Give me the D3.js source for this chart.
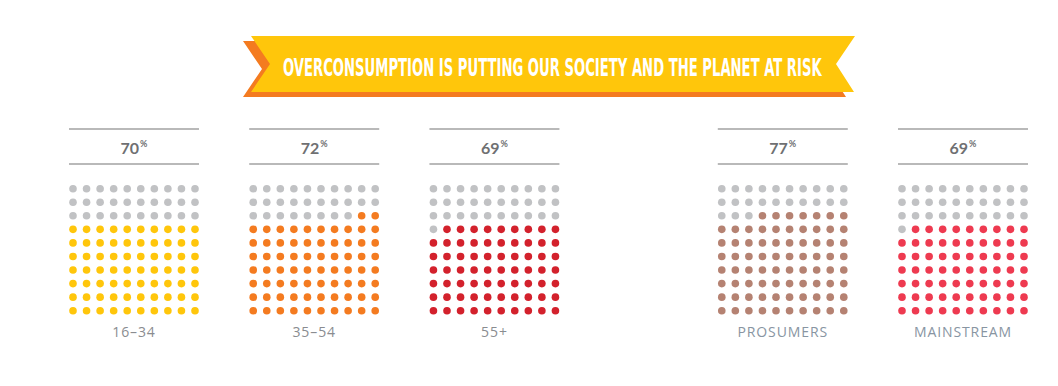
<!DOCTYPE html>
<html>
<head>
<meta charset="utf-8">
<script src="https://cdn.jsdelivr.net/npm/d3@7"></script>
<style>
	html, body { margin: 0; padding: 0; background: #fff; }
	svg { display: block; }
</style>
</head>
<body>
<svg id="chart"></svg>
<script>
// Chart data
const title = 'OVERCONSUMPTION IS PUTTING OUR SOCIETY AND THE PLANET AT RISK';
const categories = [ '16–34', '35–54', '55+', 'PROSUMERS', 'MAINSTREAM' ];
const groups = [ 'age', 'age', 'age', 'segment', 'segment' ];
const values = [ 70, 72, 69, 77, 69 ];
const colors = [ '#ffc60b', '#f47b20', '#d3212c', '#b58272', '#ee3a50' ];
const labelColors = [ '#8a8c90', '#8a8c90', '#8a8c90', '#8895a2', '#8895a2' ];

const width = 1058;
const height = 386;
const cols = 10;
const rows = 10;
const panelW = 130;
const emptyColor = '#c1c2c4';
const ruleColor = '#a2a2a2';

const svg = d3.select( '#chart' )
	.attr( 'width', width )
	.attr( 'height', height );

/**
 * Banner
 */
const bannerPts = [ [ 251, 36 ], [ 855, 36 ], [ 836, 64 ], [ 854, 92 ], [ 251, 92 ], [ 270, 64 ] ];
const line = d3.line();

svg.append( 'path' )
	.attr( 'd', line( bannerPts ) + 'Z' )
	.attr( 'transform', 'translate(-8,5)' )
	.attr( 'fill', '#f47b20' );

svg.append( 'path' )
	.attr( 'd', line( bannerPts ) + 'Z' )
	.attr( 'fill', '#ffc60b' );

// no condensed face is installed, so squeeze the title horizontally
const titleG = svg.append( 'g' );
const titleText = titleG.append( 'text' )
	.attr( 'x', 0 )
	.attr( 'y', 0 )
	.style( 'font-family', '"Liberation Sans Narrow", "DejaVu Sans Condensed", "DejaVu Sans", sans-serif' )
	.style( 'font-weight', 700 )
	.style( 'font-size', '24px' )
	.attr( 'fill', '#fff' )
	.text( title );
const naturalW = titleText.node().getComputedTextLength();
titleG.attr( 'transform', `translate(283,75.5) scale(${ 539 / naturalW },1)` );

/**
 * Panels
 */
// a small gap separates the age groups from the segments
const slots = categories.map( ( c, i ) => i + ( groups[ i ] === 'segment' ? 0.6 : 0 ) );
const xPanel = d3.scaleLinear()
	.domain( [ 0, d3.max( slots ) ] )
	.range( [ 69, 898 ] );

const xDot = d3.scalePoint().domain( d3.range( cols ) ).range( [ 4, panelW - 4 ] );
const yDot = d3.scalePoint().domain( d3.range( rows ) ).range( [ 188.7, 310.7 ] );

const panels = svg.selectAll( 'g.panel' )
	.data( categories.map( ( c, i ) => ( {
		name: c,
		value: values[ i ],
		color: colors[ i ],
		labelColor: labelColors[ i ],
		x: xPanel( slots[ i ] ),
	} ) ) )
	.enter()
	.append( 'g' )
	.attr( 'class', 'panel' )
	.attr( 'transform', ( d ) => `translate(${ d.x },0)` );

panels.selectAll( 'line.rule' )
	.data( [ 129, 164 ] )
	.enter()
	.append( 'line' )
	.attr( 'class', 'rule' )
	.attr( 'x1', 0 )
	.attr( 'x2', panelW )
	.attr( 'y1', ( d ) => d )
	.attr( 'y2', ( d ) => d )
	.attr( 'stroke', ruleColor )
	.attr( 'stroke-width', 1.5 );

const pct = panels.append( 'text' )
	.attr( 'x', panelW / 2 )
	.attr( 'y', 153.5 )
	.attr( 'text-anchor', 'middle' )
	.style( 'font-family', 'Lato, "Open Sans", sans-serif' )
	.attr( 'fill', '#6f7072' );

pct.append( 'tspan' )
	.style( 'font-size', '16px' )
	.style( 'font-weight', 700 )
	.text( ( d ) => d.value );

pct.append( 'tspan' )
	.attr( 'dy', -6.5 )
	.attr( 'dx', 1 )
	.style( 'font-size', '9px' )
	.style( 'font-weight', 700 )
	.text( '%' );

// filled dots start from the bottom right
panels.selectAll( 'circle' )
	.data( ( d ) => d3.range( rows * cols ).map( ( k ) => ( {
		row: Math.floor( k / cols ),
		col: k % cols,
		fill: k >= rows * cols - d.value ? d.color : emptyColor,
	} ) ) )
	.enter()
	.append( 'circle' )
	.attr( 'cx', ( d ) => xDot( d.col ) )
	.attr( 'cy', ( d ) => yDot( d.row ) )
	.attr( 'r', 3.8 )
	.attr( 'fill', ( d ) => d.fill );

panels.append( 'text' )
	.attr( 'x', panelW / 2 )
	.attr( 'y', 336.5 )
	.attr( 'text-anchor', 'middle' )
	.style( 'font-family', '"Open Sans", Lato, sans-serif' )
	.style( 'font-size', '14px' )
	.style( 'letter-spacing', '0.9px' )
	.attr( 'fill', ( d ) => d.labelColor )
	.text( ( d ) => d.name );
</script>
</body>
</html>
